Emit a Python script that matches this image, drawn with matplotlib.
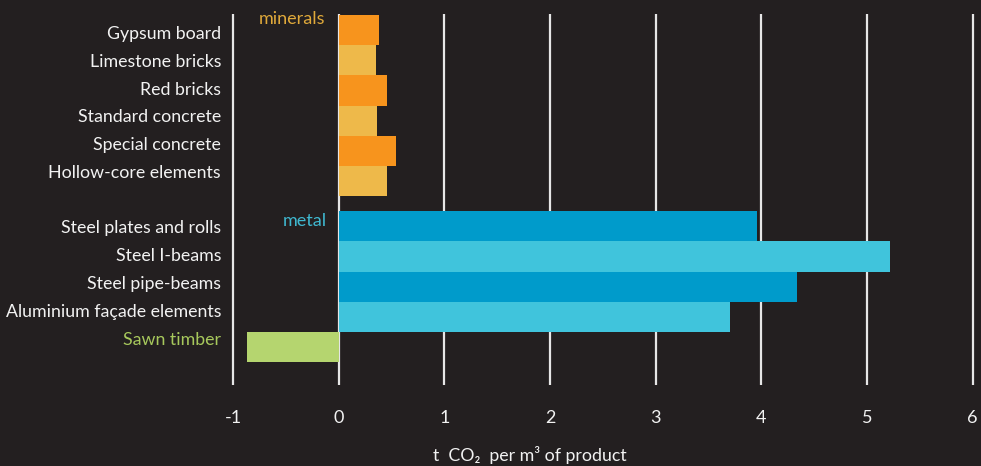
import matplotlib.pyplot as plt

# data
materials = ['Gypsum board', 'Limestone bricks', 'Red bricks', 'Standard concrete',
             'Special concrete', 'Hollow-core elements',
             'Steel plates and rolls', 'Steel I-beams', 'Steel pipe-beams',
             'Aluminium façade elements', 'Sawn timber']
co2 = [0.38, 0.35, 0.46, 0.36, 0.54, 0.455,
       3.96, 5.22, 4.34, 3.70, -0.87]
groups = ['minerals'] * 6 + ['metal'] * 4 + ['timber']
x_ticks = [-1, 0, 1, 2, 3, 4, 5, 6]

bg = '#231f20'
bar_colors = ['#f7941d', '#eeb94a', '#f7941d', '#eeb94a', '#f7941d', '#eeb94a',
              '#009bcb', '#40c4dc', '#009bcb', '#40c4dc', '#b5d56f']
label_colors = ['#f2f2f2'] * 10 + ['#a7c85c']

# bar slots: a half-bar gap between minerals and metal
slots = []
pos = 0.0
for i, g in enumerate(groups):
    if i > 0 and g == 'metal' and groups[i - 1] == 'minerals':
        pos += 0.5
    slots.append(pos)
    pos += 1
# the labels in the original sit on a slightly tighter pitch than the bars
label_y = []
for i, g in enumerate(groups):
    if g == 'minerals':
        label_y.append(0.13 + i * 0.92)
    else:
        label_y.append(6.55 + (i - 6) * 0.927)

plt.rcParams['font.family'] = ['Lato', 'DejaVu Sans']

fig = plt.figure(figsize=(9.81, 4.66), dpi=100, facecolor=bg)
ax = fig.add_axes([230 / 981, 1 - 385 / 466, 1 - 230 / 981, (385 - 14) / 466])
ax.set_facecolor(bg)

for x in x_ticks:
    ax.axvline(x, color='#e6e6e6', lw=1.6, zorder=1)

ax.barh(slots, co2, height=1.0, color=bar_colors, zorder=2)

ax.set_xlim(-1.03, 6.08)
ax.set_ylim(11.75, -0.53)

ax.set_yticks([])
for name, y, c in zip(materials, label_y, label_colors):
    ax.text(-1.115, y, name, color=c, fontsize=12.8, ha='right', va='center')

ax.set_xticks(x_ticks)
ax.set_xticklabels([str(v) for v in x_ticks], fontsize=13, color='#f2f2f2')
ax.tick_params(axis='x', length=0, pad=18)

for s in ax.spines.values():
    s.set_visible(False)

ax.text(-0.13, -0.37, 'minerals', color='#e0a93a', fontsize=13, ha='right', va='center')
ax.text(-0.11, 6.33, 'metal', color='#3fb8d0', fontsize=13, ha='right', va='center')

fig.text(530 / 981, 1 - 455 / 466, 't  CO₂  per m³ of product', color='#f2f2f2',
         fontsize=12.8, ha='center', va='center')

fig.savefig('out.png', dpi=100, facecolor=bg)
